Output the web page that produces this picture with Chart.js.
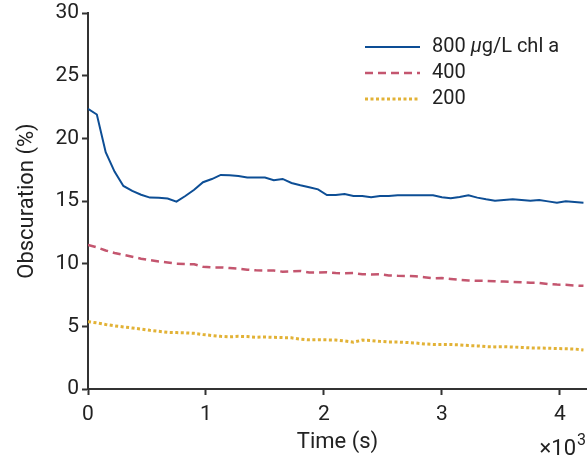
<!DOCTYPE html>
<html>
<head>
<meta charset="utf-8">
<script src="https://cdn.jsdelivr.net/npm/chart.js@4"></script>
<style>
    body { margin: 0; background: #fff; }
    #wrap { width: 587px; height: 464px; }
</style>
</head>
<body>
<div id="wrap"><canvas id="obsChart" width="587" height="464"></canvas></div>
<script>
// time in seconds, one sample every 75 s
let times = [0, 75, 150, 225, 300, 375, 450, 525, 600, 675, 750, 825, 900, 975, 1050, 1125, 1200, 1275, 1350, 1425,
    1500, 1575, 1650, 1725, 1800, 1875, 1950, 2025, 2100, 2175, 2250, 2325, 2400, 2475, 2550, 2625, 2700, 2775, 2850,
    2925, 3000, 3075, 3150, 3225, 3300, 3375, 3450, 3525, 3600, 3675, 3750, 3825, 3900, 3975, 4050, 4125, 4200]

let obs800 = [22.35, 21.9, 18.9, 17.35, 16.2, 15.8, 15.5, 15.27, 15.25, 15.2, 14.95, 15.4, 15.9, 16.5, 16.75, 17.08,
    17.05, 17.0, 16.87, 16.87, 16.87, 16.65, 16.76, 16.44, 16.25, 16.1, 15.93, 15.48, 15.48, 15.56, 15.4, 15.4, 15.3,
    15.4, 15.4, 15.45, 15.45, 15.45, 15.45, 15.45, 15.3, 15.22, 15.32, 15.45, 15.27, 15.14, 15.03, 15.08, 15.14, 15.08,
    15.03, 15.08, 14.97, 14.87, 14.97, 14.92, 14.87]

let obs400 = [11.5, 11.3, 11.05, 10.85, 10.7, 10.55, 10.4, 10.28, 10.18, 10.1, 10.0, 9.97, 9.95, 9.75, 9.7, 9.7,
    9.65, 9.6, 9.52, 9.47, 9.45, 9.45, 9.36, 9.38, 9.42, 9.3, 9.29, 9.31, 9.25, 9.24, 9.25, 9.15, 9.14, 9.15, 9.06,
    9.03, 9.02, 9.0, 8.92, 8.84, 8.85, 8.78, 8.71, 8.66, 8.64, 8.63, 8.6, 8.57, 8.55, 8.52, 8.48, 8.47, 8.38, 8.33,
    8.31, 8.26, 8.23]

let obs200 = [5.37, 5.28, 5.15, 5.04, 4.95, 4.87, 4.78, 4.68, 4.6, 4.52, 4.5, 4.48, 4.44, 4.34, 4.27, 4.2, 4.16,
    4.2, 4.18, 4.13, 4.15, 4.12, 4.1, 4.08, 3.98, 3.92, 3.93, 3.92, 3.91, 3.84, 3.74, 3.9, 3.87, 3.8, 3.75, 3.75,
    3.71, 3.67, 3.6, 3.56, 3.56, 3.55, 3.52, 3.47, 3.44, 3.38, 3.36, 3.37, 3.35, 3.32, 3.28, 3.27, 3.25, 3.23, 3.21,
    3.19, 3.12]

let seriesLabels = ["800 μg/L chl a", "400", "200"]
let yTicks = [0, 5, 10, 15, 20, 25, 30]
let xTicks = [0, 1000, 2000, 3000, 4000]

let fontFamily = "Roboto, 'Liberation Sans', sans-serif"
let axisColor = "#333333"
let textColor = "#222222"

let toPoints = (vals) => vals.map((v, i) => ({ x: times[i], y: v }))

// legend drawn by hand so the line samples sit like the original
let legendPlugin = {
    id: "handLegend",
    afterDraw(chart) {
        let ctx = chart.ctx
        ctx.save()
        chart.data.datasets.forEach((ds, i) => {
            let y = 47 + 26 * i
            ctx.strokeStyle = ds.borderColor
            ctx.lineWidth = ds.borderWidth
            ctx.setLineDash(ds.borderDash || [])
            ctx.beginPath()
            ctx.moveTo(365, y)
            ctx.lineTo(420, y)
            ctx.stroke()
            ctx.setLineDash([])
            ctx.fillStyle = textColor
            ctx.textBaseline = "middle"
            let x = 432
            // the mu is set in italic
            let parts = ds.label.split("μ")
            parts.forEach((p, k) => {
                ctx.font = "20px " + fontFamily
                ctx.fillText(p, x, y)
                x += ctx.measureText(p).width
                if (k < parts.length - 1) {
                    ctx.font = "italic 20px " + fontFamily
                    ctx.fillText("μ", x, y)
                    x += ctx.measureText("μ").width
                }
            })
        })
        // x10^3 multiplier
        ctx.fillStyle = textColor
        ctx.textBaseline = "alphabetic"
        ctx.textAlign = "right"
        ctx.font = "16px " + fontFamily
        ctx.fillText("3", 586, 445)
        let w3 = ctx.measureText("3").width
        ctx.font = "22px " + fontFamily
        ctx.fillText("×10", 586 - w3 - 1, 455)
        ctx.restore()
    }
}

let obsChart = new Chart("obsChart", {
    type: "line",
    data: {
        datasets: [{
            label: seriesLabels[0],
            data: toPoints(obs800),
            borderColor: "#0d4e95",
            borderWidth: 2,
            pointRadius: 0,
            tension: 0
        }, {
            label: seriesLabels[1],
            data: toPoints(obs400),
            borderColor: "#c4566f",
            borderWidth: 2.5,
            borderDash: [8, 5],
            pointRadius: 0,
            tension: 0
        }, {
            label: seriesLabels[2],
            data: toPoints(obs200),
            borderColor: "#e2b236",
            borderWidth: 3,
            borderDash: [3, 2.5],
            pointRadius: 0,
            tension: 0
        }]
    },
    options: {
        responsive: false,
        animation: false,
        devicePixelRatio: 1,
        layout: { padding: { top: 13, right: 0, left: 0, bottom: 0 } },
        plugins: { legend: { display: false }, tooltip: { enabled: false } },
        scales: {
            x: {
                type: "linear",
                min: 0,
                max: 4230,
                afterBuildTicks: (scale) => { scale.ticks = xTicks.map(v => ({ value: v })) },
                afterFit: (scale) => {
                    scale.height = 75
                    scale.paddingLeft = 0
                    scale.paddingRight = 0
                },
                ticks: {
                    callback: (v) => v / 1000,
                    color: textColor,
                    font: { family: fontFamily, size: 21 },
                    padding: 7,
                    maxRotation: 0
                },
                grid: { drawOnChartArea: false, tickLength: 6, tickWidth: 2, tickColor: axisColor },
                border: { color: axisColor, width: 2 },
                title: {
                    display: true,
                    text: "Time (s)",
                    color: textColor,
                    font: { family: fontFamily, size: 22 },
                    padding: { top: 0, bottom: 8 }
                }
            },
            y: {
                min: 0,
                max: 30,
                afterBuildTicks: (scale) => { scale.ticks = yTicks.map(v => ({ value: v })) },
                afterFit: (scale) => {
                    scale.width = 88
                    scale.paddingTop = 0
                    scale.paddingBottom = 0
                },
                ticks: {
                    color: textColor,
                    font: { family: fontFamily, size: 21 },
                    padding: 3
                },
                grid: { drawOnChartArea: false, tickLength: 6, tickWidth: 2, tickColor: axisColor },
                border: { color: axisColor, width: 2 },
                title: {
                    display: true,
                    text: "Obscuration (%)",
                    color: textColor,
                    font: { family: fontFamily, size: 22 },
                    padding: { top: 14, bottom: 0 }
                }
            }
        }
    },
    plugins: [legendPlugin]
})
</script>
</body>
</html>
